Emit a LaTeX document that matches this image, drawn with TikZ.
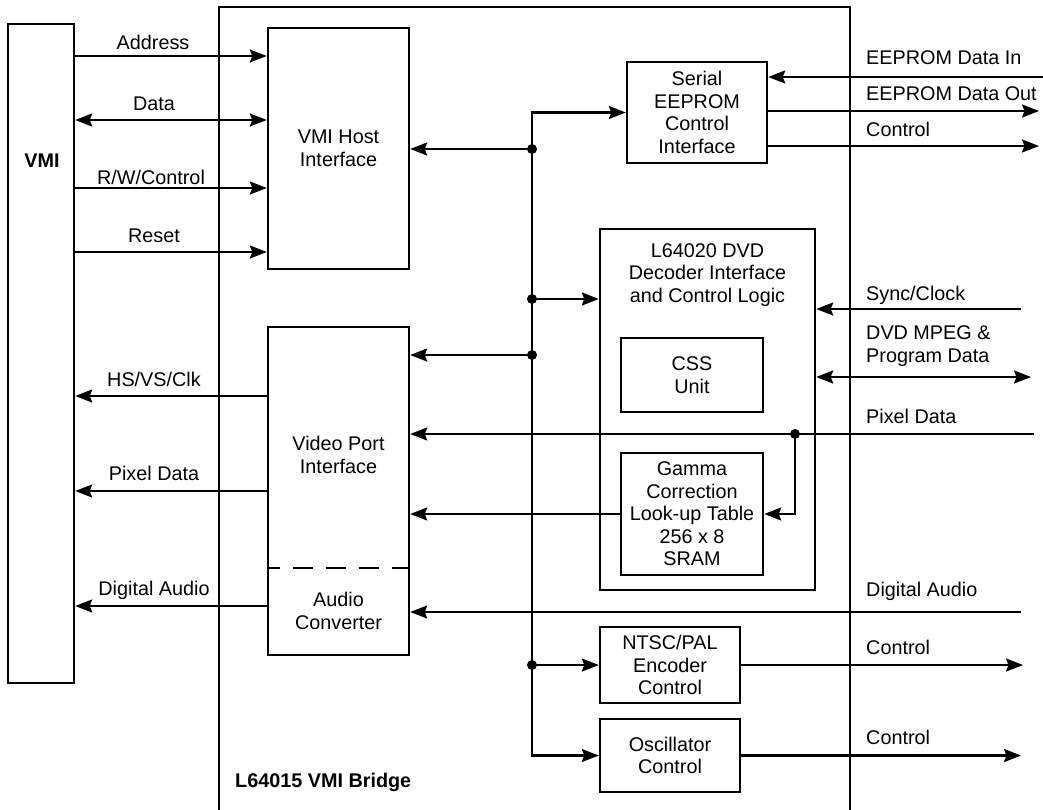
\documentclass[tikz,border=0pt]{standalone}
\usepackage{fontspec}
\setmainfont{Liberation Sans}
\usetikzlibrary{arrows.meta}
\newcommand\dfont{\fontsize{19.8}{22.5}\selectfont}
\begin{document}
\begin{tikzpicture}[x=1pt,y=-1pt,
  box/.style={draw, line width=2.4pt, inner sep=0pt, align=center, font=\dfont},
  ln/.style={line width=2.2pt},
  tip/.tip={Stealth[length=17pt,width=13pt,inset=2.5pt]},
  arr/.style={ln,-tip},
  darr/.style={ln,tip-tip},
  lbl/.style={font=\dfont, inner sep=0pt, text height=14.2pt, text depth=0pt},
  mlbl/.style={font=\dfont, inner sep=0pt, align=left},
  dot/.style={circle, fill, inner sep=0pt, minimum size=10pt},
  dashsep/.style={line width=2.2pt, dash pattern=on 20pt off 13pt, dash phase=7pt}]
\useasboundingbox (0,0) rectangle (1043,809);
\fill[white] (0,0) rectangle (1043,809);

% boxes
\node[box, minimum width=66pt, minimum height=659pt] (vmi) at (41,353.5) {};
\node[box, minimum width=631pt, minimum height=823pt] (bridge) at (534.5,418.5) {};
\node[box, minimum width=141pt, minimum height=241pt] (host) at (338.5,148.5) {VMI Host\\Interface};
\node[box, minimum width=141pt, minimum height=328pt] (video) at (338.5,491) {};
\node[box, minimum width=140pt, minimum height=101pt] (serial) at (697,112.5) {Serial\\EEPROM\\Control\\Interface};
\node[box, minimum width=215pt, minimum height=361pt] (dec) at (707.5,409.5) {};
\node[box, minimum width=142pt, minimum height=74pt] (css) at (692,375) {CSS\\Unit};
\node[box, minimum width=142pt, minimum height=122pt] (gamma) at (692,514) {Gamma\\Correction\\Look-up Table\\256 x 8\\SRAM};
\node[box, minimum width=140pt, minimum height=76pt] (ntsc) at (670,665) {NTSC/PAL\\Encoder\\Control};
\node[box, minimum width=140pt, minimum height=73pt] (osc) at (670,755.5) {Oscillator\\Control};

% texts inside larger boxes
\node[font=\dfont, align=center, inner sep=0pt] (vtxt) at (338.5,455) {Video Port\\Interface};
\node[font=\dfont, align=center, inner sep=0pt] (atxt) at (338.5,611) {Audio\\Converter};
\node[font=\dfont, align=center, inner sep=0pt] (dtxt) at (707.5,275) {L64020 DVD\\Decoder Interface\\and Control Logic};
\node[lbl, font=\dfont\bfseries] (vmil) at (42,160) {VMI};
\node[lbl, font=\dfont\bfseries, anchor=west] (brl) at (235,780) {L64015 VMI Bridge};

% dashed separator
\draw[dashsep] (video.west |- 0,568) -- (video.east |- 0,568);

% VMI <-> host
\draw[arr] (vmi.east |- 0,56) -- (host.west |- 0,56);
\draw[darr] (vmi.east |- 0,120) -- (host.west |- 0,120);
\draw[arr] (vmi.east |- 0,188) -- (host.west |- 0,188);
\draw[arr] (vmi.east |- 0,252) -- (host.west |- 0,252);
\node[lbl] (la) at (153,42) {Address};
\node[lbl] (ld) at (154,103) {Data};
\node[lbl] (lr) at (151,177) {R/W/Control};
\node[lbl] (lres) at (154,235) {Reset};

% video -> VMI
\draw[arr] (video.west |- 0,396) -- (vmi.east |- 0,396);
\draw[arr] (video.west |- 0,491) -- (vmi.east |- 0,491);
\draw[arr] (video.west |- 0,606) -- (vmi.east |- 0,606);
\node[lbl] (lhs) at (154,379) {HS/VS/Clk};
\node[lbl] (lpd) at (154,473) {Pixel Data};
\node[lbl] (lda) at (154,588) {Digital Audio};

% internal bus
\coordinate (j1) at (532,149);
\coordinate (j2) at (532,299);
\coordinate (j3) at (532,355);
\coordinate (j4) at (532,665);
\draw[arr] (j1) -- (host.east |- j1);
\draw[arr] (j1) |- (serial.west);
\draw[arr] (j1) |- (osc.west);
\draw[arr] (j2) -- (dec.west |- j2);
\draw[arr] (j3) -- (video.east |- j3);
\draw[arr] (j4) -- (ntsc.west);
\foreach \j in {j1,j2,j3,j4} \node[dot] at (\j) {};

% serial EEPROM external
\coordinate (ein) at (1045,77);
\coordinate (eout) at (1039,111);
\coordinate (ectl) at (1039,146);
\draw[arr] (ein) -- (serial.east |- ein);
\draw[arr] (serial.east |- eout) -- (eout);
\draw[arr] (serial.east |- ectl) -- (ectl);
\node[lbl, anchor=west] (lein) at (866,57) {EEPROM Data In};
\node[lbl, anchor=west] (leout) at (866,93) {EEPROM Data Out};
\node[lbl, anchor=west] (lectl) at (866,129) {Control};

% decoder external
\coordinate (sync) at (1021,309);
\coordinate (mpeg) at (1031,377);
\coordinate (pix) at (1034,434);
\coordinate (pj) at (795,434);
\coordinate (aud) at (1021,612);
\draw[arr] (sync) -- (dec.east |- sync);
\draw[darr] (dec.east |- mpeg) -- (mpeg);
\draw[arr] (pix) -- (video.east |- pix);
\draw[arr] (pj) |- (gamma.east);
\node[dot] at (pj) {};
\draw[arr] (gamma.west) -- (video.east |- gamma.west);
\draw[arr] (aud) -- (video.east |- aud);
\node[lbl, anchor=west] (lsync) at (866,293) {Sync/Clock};
\node[mlbl, anchor=west] (lmpeg) at (866,346) {DVD MPEG \&\\Program Data};
\node[lbl, anchor=west] (lpix) at (866,416) {Pixel Data};
\node[lbl, anchor=west] (laud) at (866,589) {Digital Audio};

% encoder / oscillator outputs
\coordinate (nctl) at (1023,665);
\coordinate (octl) at (1021,755.5);
\draw[arr] (ntsc.east) -- (nctl);
\draw[arr] (osc.east) -- (octl);
\node[lbl, anchor=west] (lnctl) at (866,647) {Control};
\node[lbl, anchor=west] (loctl) at (866,737) {Control};
\end{tikzpicture}
\end{document}
